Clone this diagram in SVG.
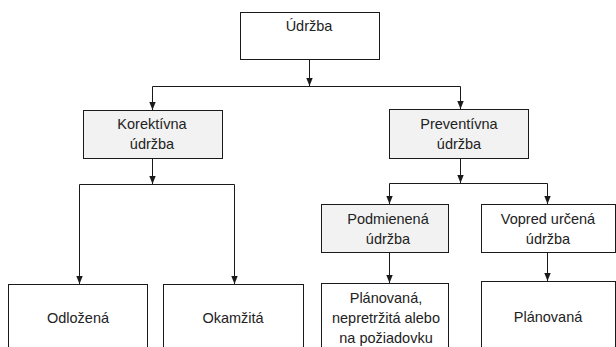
<svg xmlns="http://www.w3.org/2000/svg" width="616" height="347" viewBox="0 0 616 347">
<style>
.box{stroke:#1a1a1a;stroke-width:1;fill:#fff}
.g{fill:#f2f2f2}
.t{font-family:"Liberation Sans",Arial,sans-serif;font-size:14.5px;fill:#222;text-anchor:middle}
.c{stroke:#1a1a1a;stroke-width:1;fill:none}
.a{stroke:#1a1a1a;stroke-width:1;fill:none;marker-end:url(#ah)}
</style>
<defs>
<marker id="ah" viewBox="0 0 8 8" refX="8" refY="4" markerWidth="8" markerHeight="8" markerUnits="userSpaceOnUse" orient="auto">
<path d="M0,0.8 L8,4 L0,7.2 Z" fill="#1a1a1a"/>
</marker>
</defs>
<g id="connectors">
<path class="a" d="M309.5,59.5 V86"/>
<path class="c" d="M152.5,86.5 H460.5"/>
<path class="a" d="M152.5,86.5 V110"/>
<path class="a" d="M460.5,86.5 V109"/>
<path class="a" d="M152.5,158.5 V184"/>
<path class="c" d="M79.5,184.5 H234.5"/>
<path class="a" d="M79.5,184.5 V284"/>
<path class="a" d="M234.5,184.5 V284"/>
<path class="a" d="M460.5,158.5 V183"/>
<path class="c" d="M389.5,183.5 H547.5"/>
<path class="a" d="M389.5,183.5 V204"/>
<path class="a" d="M547.5,183.5 V204"/>
<path class="a" d="M389.5,252.5 V283"/>
<path class="a" d="M547.5,252.5 V281"/>
</g>
<g id="udrzba">
<rect class="box" x="240.5" y="12.5" width="139" height="47"/>
<text class="t" x="309" y="31">Údržba</text>
</g>
<g id="korektivna">
<rect class="box g" x="83.5" y="110.5" width="139" height="48"/>
<text class="t" x="152" y="129">Korektívna</text>
<text class="t" x="152" y="149">údržba</text>
</g>
<g id="preventivna">
<rect class="box g" x="389.5" y="109.5" width="139" height="49"/>
<text class="t" x="459" y="129">Preventívna</text>
<text class="t" x="459" y="149">údržba</text>
</g>
<g id="odlozena">
<rect class="box" x="8.5" y="284.5" width="139" height="70"/>
<text class="t" x="78" y="323">Odložená</text>
</g>
<g id="okamzita">
<rect class="box" x="163.5" y="284.5" width="140" height="70"/>
<text class="t" x="233" y="323">Okamžitá</text>
</g>
<g id="podmienena">
<rect class="box g" x="321.5" y="204.5" width="127" height="48"/>
<text class="t" x="388" y="224">Podmienená</text>
<text class="t" x="388" y="244">údržba</text>
</g>
<g id="vopred">
<rect class="box" x="481.5" y="204.5" width="134" height="48"/>
<text class="t" x="548" y="224">Vopred určená</text>
<text class="t" x="548" y="244">údržba</text>
</g>
<g id="planovana-podm">
<rect class="box" x="321.5" y="283.5" width="127" height="70"/>
<text class="t" x="386" y="303">Plánovaná,</text>
<text class="t" x="386" y="323">nepretržitá alebo</text>
<text class="t" x="386" y="343">na požiadovku</text>
</g>
<g id="planovana-vopred">
<rect class="box" x="481.5" y="281.5" width="134" height="70"/>
<text class="t" x="548" y="322">Plánovaná</text>
</g>
</svg>
